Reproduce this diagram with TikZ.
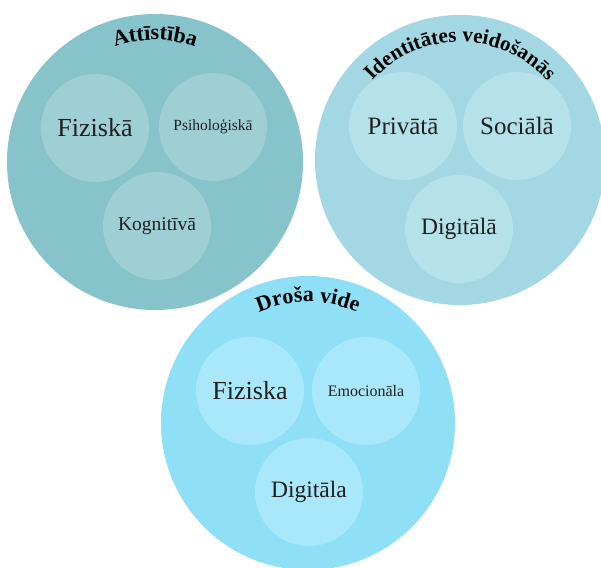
\documentclass[tikz,border=0pt]{standalone}
\usepackage{fontspec}
\setmainfont{Liberation Serif}
\usetikzlibrary{decorations.text}
\definecolor{attfill}{HTML}{87C3CA}
\definecolor{attpart}{HTML}{9DCFD5}
\definecolor{idfill}{HTML}{A2D7E3}
\definecolor{idpart}{HTML}{B5E1EA}
\definecolor{drfill}{HTML}{8FDFF6}
\definecolor{drpart}{HTML}{A9E8FA}
\tikzset{
  area/.style     = {shape=circle, draw=none, inner sep=0pt},
  part/.style     = {shape=circle, draw=none, inner sep=0pt,
                     minimum size=108pt, text=black!88},
  arctitle/.style = {decorate,
                     decoration={text along path, text align=center}}
}

\begin{document}
\begin{tikzpicture}[x=1pt, y=1pt]
  \useasboundingbox (0,0) rectangle (601,567);

  % three big areas
  \node [area, fill=attfill, minimum size=296pt] (att) at (155,405) {};
  \node [area, fill=idfill,  minimum size=290pt] (id)  at (460,407) {};
  \node [area, fill=drfill,  minimum size=294pt] (dr)  at (308,144) {};

  % parts of each area
  \node [part, fill=attpart, font=\fontsize{26}{26}\selectfont] (att-fiz) at (95,439)  {Fiziskā};
  \node [part, fill=attpart, font=\fontsize{15.5}{15.5}\selectfont] (att-psi) at (213,440) {Psiholoģiskā};
  \node [part, fill=attpart, font=\fontsize{19.5}{19.5}\selectfont] (att-kog) at (157,341) {Kognitīvā};

  \node [part, fill=idpart, font=\fontsize{25}{25}\selectfont] (id-priv) at (403,441) {Privātā};
  \node [part, fill=idpart, font=\fontsize{25}{25}\selectfont] (id-soc)  at (517,441) {Sociālā};
  \node [part, fill=idpart, font=\fontsize{23.5}{23.5}\selectfont] (id-dig)  at (459,338) {Digitālā};

  \node [part, fill=drpart, font=\fontsize{26}{26}\selectfont] (dr-fiz) at (250,176) {Fiziska};
  \node [part, fill=drpart, font=\fontsize{16}{16}\selectfont] (dr-emo) at (366,176) {Emocionāla};
  \node [part, fill=drpart, font=\fontsize{23.5}{23.5}\selectfont] (dr-dig) at (309,75)  {Digitāla};

  % curved titles
  \path [arctitle, decoration={text={|\bfseries\fontsize{22}{22}\selectfont|Attīstība}}]
    (att.center) ++(160:122) arc[start angle=160, end angle=20, radius=122];
  \path [arctitle, decoration={text={|\bfseries\fontsize{21}{21}\selectfont|Identitātes veidošanās}}]
    (id.center) ++(170:118) arc[start angle=170, end angle=10, radius=118];
  \path [arctitle, decoration={text={|\bfseries\fontsize{22}{22}\selectfont|Droša vide}}]
    (dr.center) ++(160:121) arc[start angle=160, end angle=20, radius=121];
\end{tikzpicture}
\end{document}
